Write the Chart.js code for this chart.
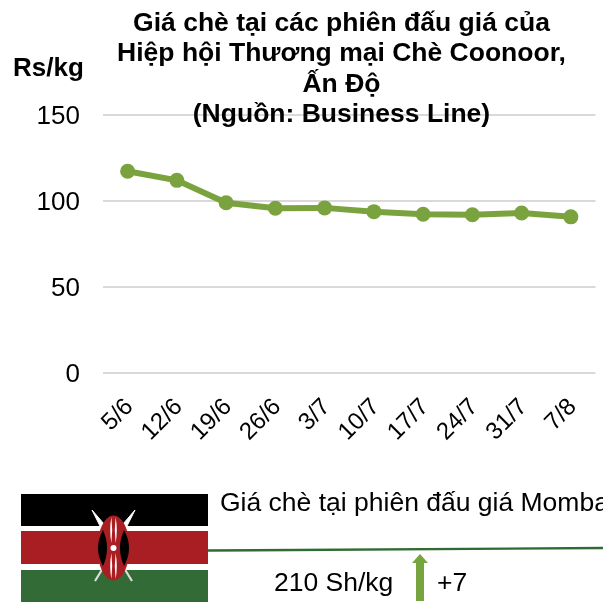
<!DOCTYPE html>
<html><head><meta charset="utf-8">
<script src="https://cdn.jsdelivr.net/npm/chart.js@4"></script>
<style>
html,body{margin:0;padding:0;background:#fff;overflow:hidden}
#wrap{position:relative;width:603px;height:602px;overflow:hidden;font-family:"Liberation Sans",Arial,sans-serif;color:#000}
canvas{position:absolute;left:0;top:0}
.t{position:absolute;white-space:nowrap}
#title{left:40px;width:603px;top:7px;text-align:center;font-weight:bold;font-size:26.5px;line-height:30.4px}
#unit{left:13px;top:52px;font-weight:bold;font-size:26px;line-height:30px}
#head{left:220px;top:487px;font-size:26.5px;line-height:30px}
#price{left:274px;top:567px;font-size:26.5px;line-height:30px}
#chg{left:437px;top:567px;font-size:26.5px;line-height:30px}
svg{position:absolute;left:0;top:0}
</style></head><body>
<div id="wrap">
<canvas id="c" width="603" height="602"></canvas>
<svg width="603" height="602" viewBox="0 0 603 602">
<rect x="21" y="494" width="187" height="32" fill="#000"/>
<rect x="21" y="526" width="187" height="44" fill="#fff"/>
<rect x="21" y="531" width="187" height="33" fill="#a81e23"/>
<rect x="21" y="570" width="187" height="32" fill="#326b35"/>
<path d="M92 510L104 524L101 528ZM135 510L123 524L126 528Z" fill="#fff" stroke="#fff" stroke-width="1"/>
<path d="M95 581L103 568M132 581L124 568" stroke="#ddd" stroke-width="2.2" fill="none"/>
<ellipse cx="113.5" cy="548" rx="16" ry="32.5" fill="#a81e23"/>
<path d="M103 530Q93 548 103 566Q111 548 103 530ZM124 530Q134 548 124 566Q116 548 124 530Z" fill="#000"/>
<path d="M111.4 517Q109 530 111.4 543Q113 530 111.4 517ZM115.6 517Q118 530 115.6 543Q114 530 115.6 517ZM111.4 553Q109 566 111.4 579Q113 566 111.4 553ZM115.6 553Q118 566 115.6 579Q114 566 115.6 553Z" fill="#fff"/>
<circle cx="113.5" cy="548" r="3" fill="#fff"/>
<path d="M208 550.5L603 548" stroke="#2f6b33" stroke-width="2.4" fill="none"/>
<path d="M420 554L428 563H424V601H416V563H412Z" fill="#78a440"/>
</svg>
<div class="t" id="title">Giá chè tại các phiên đấu giá của<br>Hiệp hội Thương mại Chè Coonoor,<br>Ấn Độ<br>(Nguồn: Business Line)</div>
<div class="t" id="unit">Rs/kg</div>
<div class="t" id="head">Giá chè tại phiên đấu giá Mombasa</div>
<div class="t" id="price">210 Sh/kg</div>
<div class="t" id="chg">+7</div>
</div>
<script>
const categories=["5/6","12/6","19/6","26/6","3/7","10/7","17/7","24/7","31/7","7/8"];
const prices=[117.3,112,99,95.8,96,93.8,92.3,92,93,90.8];
const yTicks=[0,50,100,150];
const nudgeLabels={id:'nudgeLabels',beforeDraw(chart){
  chart.scales.y.getLabelItems().forEach(i=>{i.options.translation[1]+=1.5;});
  chart.scales.x.getLabelItems().forEach(i=>{i.options.translation[0]+=2;i.options.translation[1]-=2;});
}};
new Chart(document.getElementById('c'),{
 type:'line',
 plugins:[nudgeLabels],
 data:{labels:categories,datasets:[{data:prices,borderColor:'#7aa33f',backgroundColor:'#7aa33f',borderWidth:6,pointRadius:7.5,pointBackgroundColor:'#7aa33f',pointBorderColor:'#7aa33f',pointBorderWidth:0,tension:0,clip:false}]},
 options:{
  responsive:false,animation:false,devicePixelRatio:1,
  layout:{padding:{top:115,right:7,left:0,bottom:0}},
  plugins:{legend:{display:false},title:{display:false},tooltip:{enabled:false}},
  scales:{
   x:{offset:true,grid:{display:false},border:{display:false},
      afterFit(s){s.height=229;s.paddingLeft=0;s.paddingRight=0;},
      ticks:{minRotation:45,maxRotation:45,color:'#000',padding:14,font:{family:'"Liberation Sans"',size:24}}},
   y:{min:0,max:150,border:{display:false},
      afterFit(s){s.width=103;s.paddingTop=0;s.paddingBottom=0;},
      afterBuildTicks(s){s.ticks=yTicks.map(v=>({value:v}));},
      grid:{color:'#d9d9d9',lineWidth:2,drawTicks:false},
      ticks:{color:'#000',padding:23,font:{family:'"Liberation Sans"',size:26}}}
  }
 }
});
</script>
</body></html>
